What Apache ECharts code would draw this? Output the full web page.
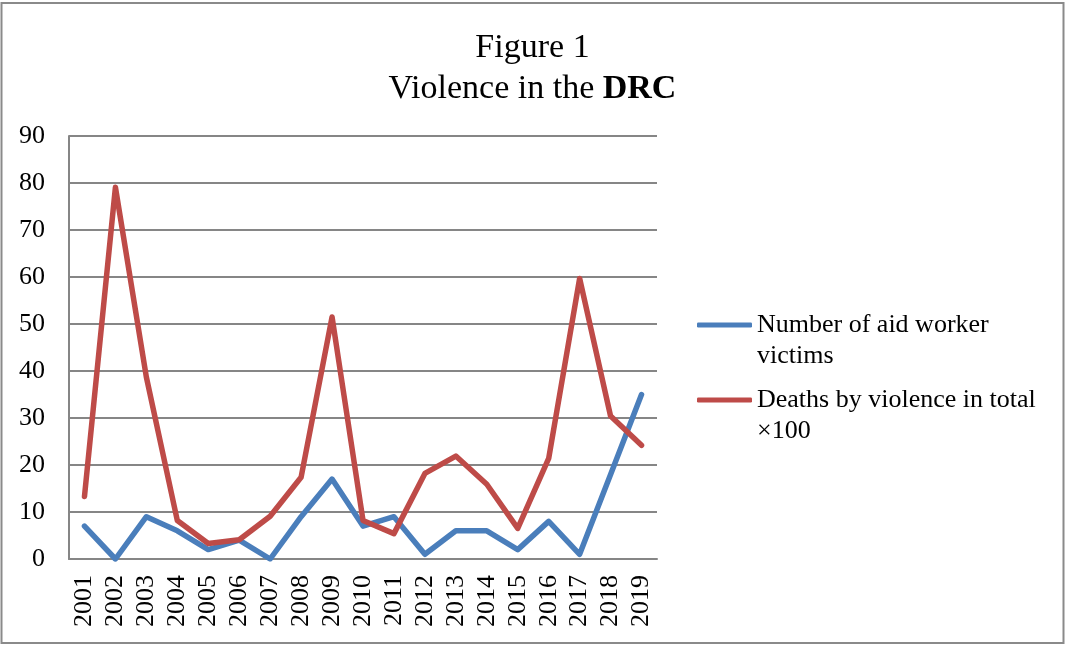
<!DOCTYPE html>
<html>
<head>
<meta charset="utf-8">
<title>Violence in the DRC</title>
<script src="https://cdn.jsdelivr.net/npm/echarts@6/dist/echarts.min.js"></script>
<style>
  html, body { margin: 0; padding: 0; background: #fff; }
  #chart { width: 1065px; height: 646px; }
</style>
</head>
<body>
<div id="chart"></div>
<script>
// Years on the category axis
var years = ['2001','2002','2003','2004','2005','2006','2007','2008','2009','2010',
             '2011','2012','2013','2014','2015','2016','2017','2018','2019'];

// Aid worker victims per year
var aidWorkerVictims = [7, 0, 9, 6, 2, 4, 0, 9, 17, 7, 9, 1, 6, 6, 2, 8, 1, 18, 35];

// Total deaths by violence, in hundreds
var violenceDeaths = [13.3, 79.1, 38.7, 8.2, 3.3, 4.1, 9.1, 17.4, 51.5, 8.2,
                      5.4, 18.2, 21.9, 15.9, 6.5, 21.4, 59.7, 30.4, 24.2];

var seriesNames = ['Number of aid worker\nvictims', 'Deaths by violence in total\n\u00d7100'];

var yTicks = { min: 0, max: 90, interval: 10 };

var serif = '"Liberation Serif", "Times New Roman", serif';
var gridGrey = '#868686';
var blue = '#4A7EBB';
var red = '#BE4B48';

// One legend block per series so each icon sits on the first line of its wrapped label
function legendFor(name, top) {
  return {
    orient: 'vertical',
    left: 697,
    top: top,
    padding: 0,
    itemWidth: 55,
    itemHeight: 5,
    itemGap: 0,
    icon: 'roundRect',
    data: [{ name: name }],
    // a leading blank line centres the icon on the label's first line
    formatter: function (n) { return '\n' + n; },
    textStyle: {
      fontFamily: serif,
      fontSize: 26,
      color: '#000',
      lineHeight: 31
    }
  };
}

var chart = echarts.init(document.getElementById('chart'));

chart.setOption({
  animation: false,
  backgroundColor: '#fff',
  textStyle: { fontFamily: serif, color: '#000' },
  title: {
    left: 'center',
    top: 23,
    text: 'Figure 1\n{n|Violence in the }{b|DRC}',
    textStyle: {
      fontFamily: serif,
      fontSize: 34,
      fontWeight: 'normal',
      color: '#000',
      lineHeight: 41,
      rich: {
        n: { fontFamily: serif, fontSize: 34, color: '#000', lineHeight: 41 },
        b: { fontFamily: serif, fontSize: 34, fontWeight: 'bold', color: '#000', lineHeight: 41 }
      }
    }
  },
  legend: [
    legendFor(seriesNames[0], 278.5),
    legendFor(seriesNames[1], 353.5)
  ],
  grid: {
    left: 69,
    right: 408,
    top: 136,
    bottom: 87,
    containLabel: false
  },
  xAxis: {
    type: 'category',
    data: years,
    boundaryGap: true,
    axisLine: { show: true, lineStyle: { color: gridGrey, width: 2 } },
    axisTick: { show: false },
    axisLabel: {
      rotate: 90,
      interval: 0,
      margin: 16,
      fontFamily: serif,
      fontSize: 26,
      color: '#000'
    }
  },
  yAxis: {
    type: 'value',
    min: yTicks.min,
    max: yTicks.max,
    interval: yTicks.interval,
    axisLine: { show: true, lineStyle: { color: gridGrey, width: 2 } },
    axisTick: { show: false },
    axisLabel: {
      margin: 24,
      fontFamily: serif,
      fontSize: 26,
      color: '#000'
    },
    splitLine: { show: true, lineStyle: { color: gridGrey, width: 2 } }
  },
  series: [
    {
      name: seriesNames[0],
      type: 'line',
      data: aidWorkerVictims,
      symbol: 'none',
      color: blue,
      lineStyle: { width: 5.5, color: blue, cap: 'round', join: 'round' }
    },
    {
      name: seriesNames[1],
      type: 'line',
      data: violenceDeaths,
      symbol: 'none',
      color: red,
      lineStyle: { width: 5.5, color: red, cap: 'round', join: 'round' }
    }
  ],
  graphic: [
    {
      type: 'rect',
      shape: { x: 1.5, y: 3, width: 1062, height: 640 },
      style: { fill: 'none', stroke: '#8a8a8a', lineWidth: 2 },
      silent: true
    }
  ]
});
</script>
</body>
</html>
